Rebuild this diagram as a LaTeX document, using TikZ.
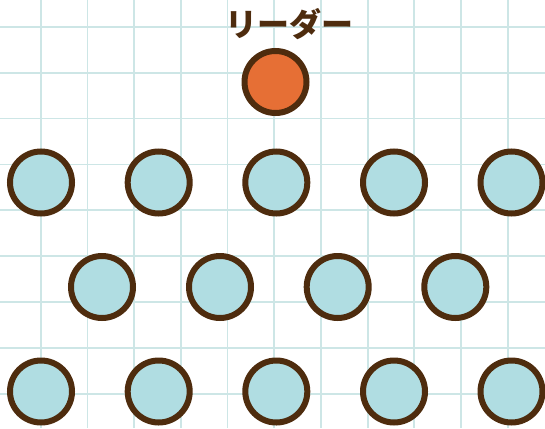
\documentclass[tikz,border=0pt]{standalone}
\usepackage{fontspec}
\newfontfamily\cjkfont{Noto Sans CJK JP}
\definecolor{gridc}{HTML}{CDE6E6}
\definecolor{brownc}{HTML}{4E2C0E}
\definecolor{bluec}{HTML}{B0DDE2}
\definecolor{orangec}{HTML}{E66F35}
\begin{document}
\begin{tikzpicture}[x=1pt,y=-1pt,
  member/.style={circle, draw=brownc, line width=6pt, fill=bluec, minimum size=62pt, inner sep=0pt},
  leader/.style={member, fill=orangec},
  gridline/.style={draw=gridc, line width=1.8pt},
  title/.style={text=brownc, font=\cjkfont\bfseries\fontsize{32}{36}\selectfont, inner sep=0pt}]
\useasboundingbox[fill=white] (0,0) rectangle (545,428);
% grid
\foreach \k in {0,...,10} {\draw[gridline] (40.7+46.7*\k,0) -- (40.7+46.7*\k,428);}
\foreach \k in {0,...,8} {\draw[gridline] (0,26.7+45.9*\k) -- (545,26.7+45.9*\k);}
% title
\node[title] (t) at (289,24) {リーダー};
% leader
\node[leader] (L) at (275.5,82) {};
% row 1
\node[member] (a1) at (41,182.5) {};
\node[member] (a2) at (158.7,182.5) {};
\node[member] (a3) at (276.3,182.5) {};
\node[member] (a4) at (394,182.5) {};
\node[member] (a5) at (511.5,182.5) {};
% row 2
\node[member] (b1) at (102,287) {};
\node[member] (b2) at (220,287) {};
\node[member] (b3) at (337.7,287) {};
\node[member] (b4) at (455.3,287) {};
% row 3
\node[member] (c1) at (41,391.5) {};
\node[member] (c2) at (158.7,391.5) {};
\node[member] (c3) at (276.3,391.5) {};
\node[member] (c4) at (394,391.5) {};
\node[member] (c5) at (511.5,391.5) {};
\end{tikzpicture}
\end{document}
